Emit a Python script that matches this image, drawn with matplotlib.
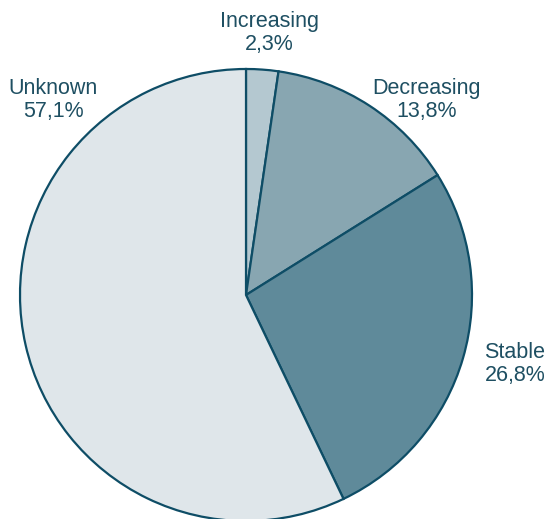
import matplotlib.pyplot as plt

labels = ['Increasing', 'Decreasing', 'Stable', 'Unknown']
shares = [2.3, 13.8, 26.8, 57.1]
colors = ['#b4c8d0', '#88a6b1', '#5f8a9a', '#dfe6ea']

# label anchor points in pixel space (x, y from bottom)
label_pos = [(269, 486), (427, 419), (515, 155), (53, 419)]

edge = '#0e4d66'
text_color = '#1e4f62'


def run_main():
    fig = plt.figure(figsize=(5.47, 5.19), dpi=100)
    ax = fig.add_axes([0, 0, 1, 1])

    ax.pie(shares, colors=colors, startangle=90, counterclock=False,
           center=(246, 224), radius=226,
           wedgeprops=dict(edgecolor=edge, linewidth=1.6))

    for name, val, (x, y) in zip(labels, shares, label_pos):
        txt = '%s\n%s%%' % (name, ('%.1f' % val).replace('.', ','))
        ax.text(x, y, txt, ha='center', va='center', fontsize=15.5,
                family='Liberation Sans', color=text_color, linespacing=1.1)

    ax.set_xlim(0, 547)
    ax.set_ylim(0, 519)
    ax.set_aspect('equal')
    ax.axis('off')

    fig.savefig('out.png', dpi=100)


if __name__ == "__main__":
    run_main()
